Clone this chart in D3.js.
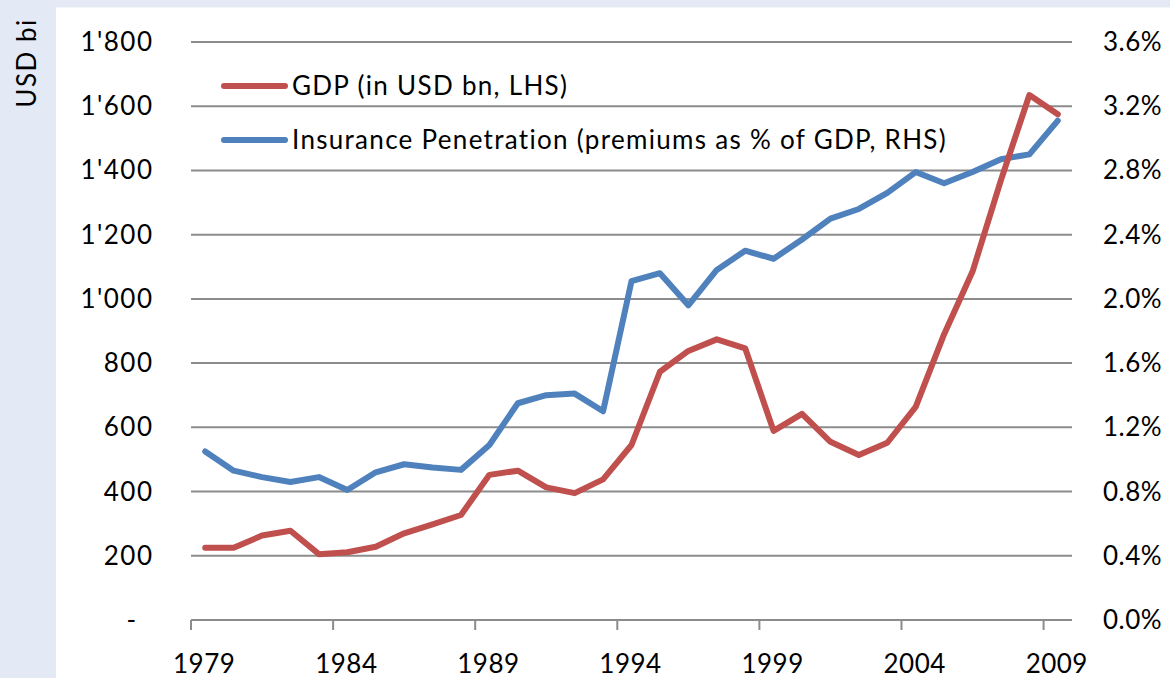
<!DOCTYPE html>
<html>
<head>
<meta charset="utf-8">
<script src="https://cdn.jsdelivr.net/npm/d3@7"></script>
<style>
  body { margin: 0; background: #e4eaf5; }
  svg { display: block; font-family: Lato, "Open Sans", sans-serif; }
</style>
</head>
<body>
<div id="chart"></div>
<script>
// Data
const years = d3.range(1979, 2010);
const gdp = [225, 225, 263, 278, 205, 211, 228, 270, 298, 327,
  452, 465, 413, 395, 438, 545, 773, 838, 874, 846,
  589, 642, 555, 514, 552, 664, 890, 1085, 1370, 1635, 1575];
const penetration = [1.05, 0.93, 0.89, 0.86, 0.89, 0.81, 0.92, 0.97, 0.95, 0.935,
  1.09, 1.35, 1.40, 1.41, 1.30, 2.11, 2.16, 1.96, 2.18, 2.30,
  2.25, 2.37, 2.50, 2.56, 2.66, 2.79, 2.72, 2.79, 2.87, 2.90, 3.11];
const leftTicks = [0, 200, 400, 600, 800, 1000, 1200, 1400, 1600, 1800];
const rightTicks = [0, 0.4, 0.8, 1.2, 1.6, 2.0, 2.4, 2.8, 3.2, 3.6];
const labelYears = [1979, 1984, 1989, 1994, 1999, 2004, 2009];
const seriesNames = ["GDP (in USD bn, LHS)", "Insurance Penetration (premiums as % of GDP, RHS)"];
const colors = ["#c0504d", "#4f81bd"];

const width = 1170;
const height = 678;

const svg = d3.select("#chart").append("svg")
  .attr("width", width)
  .attr("height", height);

// plot background
svg.append("rect")
  .attr("x", 56).attr("y", 7.5)
  .attr("width", width - 56).attr("height", height - 7.5)
  .attr("fill", "#fff");

const x = d3.scaleBand().domain(years).range([191, 1072]);
const yL = d3.scaleLinear().domain([0, 1800]).range([620, 42]);
const yR = d3.scaleLinear().domain([0, 3.6]).range([620, 42]);
const cx = (yr) => x(yr) + x.bandwidth() / 2;

const swiss = d3.formatLocale({ decimal: ".", thousands: "'", grouping: [3], currency: ["", ""] });
const fmtL = swiss.format(",");

// gridlines
svg.append("g").selectAll("line")
  .data(leftTicks)
  .enter().append("line")
  .attr("x1", 191).attr("x2", 1072)
  .attr("y1", (d) => yL(d)).attr("y2", (d) => yL(d))
  .attr("stroke", "#8c8c8c")
  .attr("stroke-width", 2);

// x ticks
svg.append("g").selectAll("line")
  .data(labelYears)
  .enter().append("line")
  .attr("x1", (d) => x(d)).attr("x2", (d) => x(d))
  .attr("y1", 620).attr("y2", 630)
  .attr("stroke", "#8c8c8c")
  .attr("stroke-width", 2);

// x labels
svg.append("g").selectAll("text")
  .data(labelYears)
  .enter().append("text")
  .attr("x", (d) => cx(d) - 1)
  .attr("y", 673)
  .attr("text-anchor", "middle")
  .attr("font-size", 26)
  .attr("letter-spacing", 0.5)
  .text((d) => d);

// left labels
svg.append("g").selectAll("text")
  .data(leftTicks)
  .enter().append("text")
  .attr("x", (d) => (d === 0 ? 132 : 153.5))
  .attr("y", (d) => yL(d) + 9)
  .attr("text-anchor", (d) => (d === 0 ? "middle" : "end"))
  .attr("font-size", 26)
  .attr("letter-spacing", 1.5)
  .text((d) => (d === 0 ? "-" : fmtL(d)));

// right labels
svg.append("g").selectAll("text")
  .data(rightTicks)
  .enter().append("text")
  .attr("x", 1103)
  .attr("y", (d) => yR(d) + 9)
  .attr("font-size", 26)
  .attr("letter-spacing", 0.5)
  .text((d) => d.toFixed(1) + "%");

// axis title (clipped in the original)
svg.append("text")
  .attr("transform", "translate(36,63) rotate(-90)")
  .attr("text-anchor", "middle")
  .attr("font-size", 26)
  .attr("letter-spacing", 1.5)
  .text("USD bi");

// lines
const lineL = d3.line().x((d, i) => cx(years[i])).y((d) => yL(d));
const lineR = d3.line().x((d, i) => cx(years[i])).y((d) => yR(d));

svg.append("path")
  .datum(penetration)
  .attr("d", lineR)
  .attr("fill", "none")
  .attr("stroke", colors[1])
  .attr("stroke-width", 6)
  .attr("stroke-linejoin", "round")
  .attr("stroke-linecap", "round");

svg.append("path")
  .datum(gdp)
  .attr("d", lineL)
  .attr("fill", "none")
  .attr("stroke", colors[0])
  .attr("stroke-width", 6)
  .attr("stroke-linejoin", "round")
  .attr("stroke-linecap", "round");

// legend
const legend = svg.append("g").selectAll("g")
  .data(seriesNames)
  .enter().append("g")
  .attr("transform", (d, i) => `translate(0,${86 + i * 54})`);

legend.append("line")
  .attr("x1", 224).attr("x2", 285)
  .attr("stroke", (d, i) => colors[i])
  .attr("stroke-width", 6)
  .attr("stroke-linecap", "round");

legend.append("text")
  .attr("x", 292)
  .attr("y", 9)
  .attr("font-size", 26)
  .attr("letter-spacing", 1.3)
  .text((d) => d);
</script>
</body>
</html>
